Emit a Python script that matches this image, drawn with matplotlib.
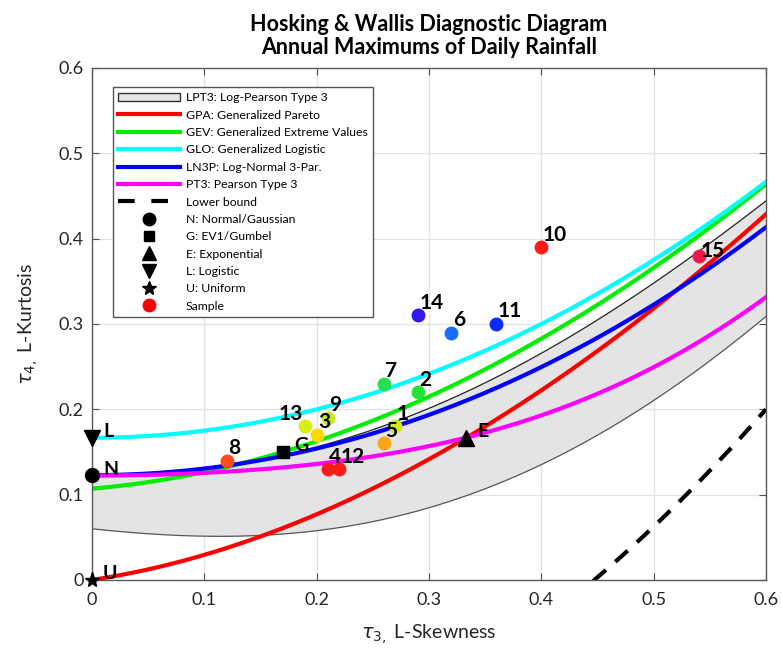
import numpy as np
import matplotlib
matplotlib.use("Agg")
import matplotlib.pyplot as plt
from matplotlib.patches import Patch
from matplotlib.lines import Line2D

# ---- L-moment ratio data -------------------------------------------------
# Regional sample L-moment ratios (station number, tau3, tau4)
station_ids = ["1", "2", "3", "4", "5", "6", "7", "8", "9", "10", "11", "12", "13", "14", "15"]
sample_t3 = [0.27, 0.29, 0.20, 0.21, 0.26, 0.32, 0.26, 0.12, 0.21, 0.40, 0.36, 0.22, 0.19, 0.29, 0.54]
sample_t4 = [0.18, 0.22, 0.17, 0.13, 0.16, 0.29, 0.23, 0.14, 0.19, 0.39, 0.30, 0.13, 0.18, 0.31, 0.38]
sample_colors = ["#d2ea1a", "#26e03c", "#ffd800", "#ff1a1a", "#ffa31a", "#1a6cff", "#26e050",
                 "#ff4a1a", "#c6e82a", "#ff1a1a", "#0a2aff", "#ff1a1a", "#d8ef12", "#3018ee", "#f0184a"]

# Log-Pearson type 3 region (lower and upper envelope)
lpt3_t3 = [0.00, 0.05, 0.10, 0.15, 0.20, 0.25, 0.30, 0.35, 0.40, 0.45, 0.50, 0.55, 0.60]
lpt3_low = [0.060, 0.054, 0.052, 0.052, 0.056, 0.068, 0.088, 0.108, 0.132, 0.168, 0.212, 0.258, 0.308]
lpt3_up = [0.122, 0.124, 0.130, 0.141, 0.156, 0.176, 0.201, 0.231, 0.265, 0.305, 0.350, 0.392, 0.445]

# Polynomial approximations tau4 = sum c_k * tau3^k (Hosking & Wallis, 1997)
gev_coef = [0.10701, 0.11090, 0.84838, -0.06669, 0.00567, -0.04208, 0.03763]
ln3_coef = [0.12282, 0.0, 0.77518, 0.0, 0.12279, 0.0, -0.13638, 0.0, 0.11368]
pe3_coef = [0.12240, 0.0, 0.30115, 0.0, 0.95812, 0.0, -0.57488, 0.0, 0.19383]

# Two-parameter distributions (tau3, tau4, label)
dist_names = ["N", "G", "E", "L", "U"]
dist_t3 = [0.0, 0.1699, 1.0 / 3.0, 0.0, 0.0]
dist_t4 = [0.1226, 0.1504, 1.0 / 6.0, 1.0 / 6.0, 0.0]
dist_markers = ["o", "s", "^", "v", "*"]
dist_sizes = [10, 8, 11, 11, 11]
dist_legend = ["N: Normal/Gaussian", "G: EV1/Gumbel", "E: Exponential", "L: Logistic", "U: Uniform"]

# ---- figure ----------------------------------------------------------------
plt.rcParams["font.family"] = ["Lato", "DejaVu Sans"]
plt.rcParams["mathtext.fontset"] = "dejavusans"

fig = plt.figure(figsize=(7.82, 6.51), dpi=100)
ax = fig.add_axes([0.1176, 0.1091, 0.8619, 0.7865])

t = np.linspace(0.0, 0.6, 301)


def poly(coef, x):
    return sum(c * x ** k for k, c in enumerate(coef))


gpa = t * (1 + 5 * t) / (5 + t)
glo = (1 + 5 * t ** 2) / 6
gev = poly(gev_coef, t)
ln3 = poly(ln3_coef, t)
pe3 = poly(pe3_coef, t)
lb = (5 * t ** 2 - 1) / 4

# smooth envelope through the tabulated LPT3 bounds
band_low = np.polyval(np.polyfit(lpt3_t3, lpt3_low, 4), t)
band_up = np.polyval(np.polyfit(lpt3_t3, lpt3_up, 4), t)

lw = 3.0
ax.fill_between(t, band_low, band_up, facecolor="#e4e4e4", edgecolor="none", zorder=1)
ax.plot(t, band_low, color="#555555", lw=0.9, zorder=1.5)
ax.plot(t, band_up, color="#222222", lw=0.9, zorder=1.5)

ax.plot(t, gpa, color="#ff0000", lw=lw, zorder=2)
ax.plot(t, gev, color="#00ee00", lw=lw, zorder=2)
ax.plot(t, glo, color="#00ffff", lw=lw, zorder=2)
ax.plot(t, ln3, color="#0000ff", lw=lw, zorder=2)
ax.plot(t, pe3, color="#ff00ff", lw=lw, zorder=2)
ax.plot(t, lb, color="black", lw=lw, dashes=(4, 3), zorder=2)

for name, x, y, m, s in zip(dist_names, dist_t3, dist_t4, dist_markers, dist_sizes):
    ax.plot(x, y, marker=m, color="black", markersize=s, linestyle="none", zorder=5, clip_on=False)
    ax.annotate(name, (x, y), xytext=(8, 0.5), textcoords="offset points", fontsize=14,
                fontweight="bold", ha="left", va="baseline", zorder=6)

for lab, x, y, c in zip(station_ids, sample_t3, sample_t4, sample_colors):
    ax.plot(x, y, marker="o", color=c, markersize=9, linestyle="none", zorder=4)
    if lab == "13":
        off, ha = (-1.5, 4.5), "right"
    elif lab == "15":
        off, ha = (1.5, -1.0), "left"
    else:
        off, ha = (1.0, 4.7), "left"
    ax.annotate(lab, (x, y), xytext=off, textcoords="offset points", fontsize=15,
                fontweight="bold", ha=ha, va="baseline", zorder=6)

ax.set_xlim(0, 0.6)
ax.set_ylim(0, 0.6)
ax.set_xticks(np.arange(0, 0.61, 0.1))
ax.set_yticks(np.arange(0, 0.61, 0.1))
ax.set_xticklabels(["0", "0.1", "0.2", "0.3", "0.4", "0.5", "0.6"])
ax.set_yticklabels(["0", "0.1", "0.2", "0.3", "0.4", "0.5", "0.6"])
ax.tick_params(direction="in", length=5, width=0.8, colors="#4d4d4d", labelsize=13,
               top=True, right=True, labelcolor="#262626")
ax.tick_params(axis="x", pad=9)
ax.tick_params(axis="y", pad=6)
ax.grid(True, color="#e3e3e3", lw=0.9)
ax.set_axisbelow(True)
for sp in ax.spines.values():
    sp.set_color("#5a5a5a")
    sp.set_linewidth(1.0)

ax.set_xlabel(r"$\tau_{3,}$ L-Skewness", fontsize=14, color="#262626", labelpad=10)
ax.set_ylabel(r"$\tau_{4,}$ L-Kurtosis", fontsize=14, color="#262626", labelpad=13)
ax.set_title("Hosking & Wallis Diagnostic Diagram\nAnnual Maximums of Daily Rainfall",
             fontsize=15.5, fontweight="bold", linespacing=1.15, pad=10)

handles = [
    Patch(facecolor="#e4e4e4", edgecolor="#333333", lw=1.0),
    Line2D([], [], color="#ff0000", lw=lw),
    Line2D([], [], color="#00ee00", lw=lw),
    Line2D([], [], color="#00ffff", lw=lw),
    Line2D([], [], color="#0000ff", lw=lw),
    Line2D([], [], color="#ff00ff", lw=lw),
    Line2D([], [], color="black", lw=lw, dashes=(4, 4)),
]
labels = [
    "LPT3: Log-Pearson Type 3",
    "GPA: Generalized Pareto",
    "GEV: Generalized Extreme Values",
    "GLO: Generalized Logistic",
    "LN3P: Log-Normal 3-Par.",
    "PT3: Pearson Type 3",
    "Lower bound",
]
for m, s, txt in zip(dist_markers, dist_sizes, dist_legend):
    handles.append(Line2D([], [], marker=m, color="black", markersize=s - 1, linestyle="none"))
    labels.append(txt)
handles.append(Line2D([], [], marker="o", color="#ff0000", markersize=9, linestyle="none"))
labels.append("Sample")

leg = ax.legend(handles, labels, loc="upper left", bbox_to_anchor=(0.022, 0.975), fontsize=8.8,
                handlelength=5.0, handletextpad=0.5, labelspacing=0.52, borderpad=0.45,
                fancybox=False, framealpha=1.0, edgecolor="#555555")
leg.get_frame().set_linewidth(1.0)
leg.set_zorder(10)

fig.savefig("out.png", dpi=100)
